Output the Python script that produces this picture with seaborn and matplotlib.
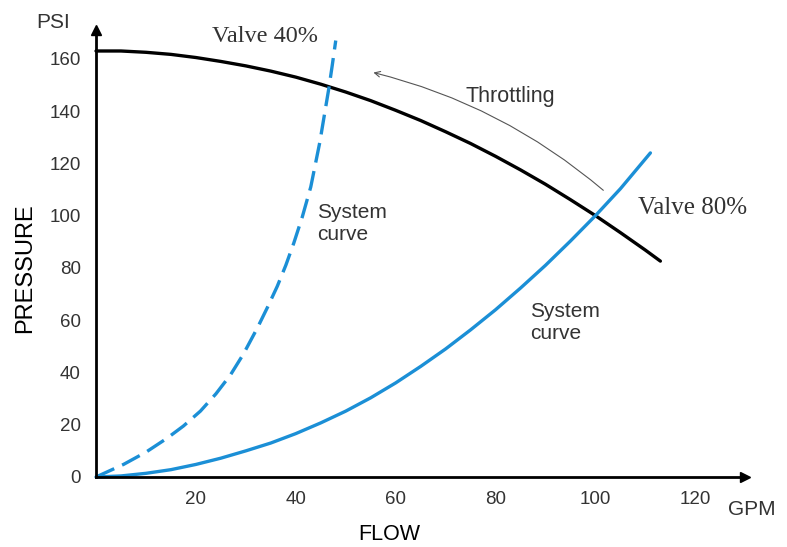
import pandas as pd
import seaborn as sns
import matplotlib.pyplot as plt

# pump curve (black)
pump_flow = [0, 5, 10, 15, 20, 25, 30, 35, 40, 45, 50, 55, 60, 65, 70, 75,
             80, 85, 90, 95, 100, 105, 110, 113]
pump_psi = [163, 163, 162.5, 161.7, 160.5, 159, 157.3, 155.3, 153, 150.3,
            147.3, 144, 140.3, 136.4, 132.1, 127.6, 122.7, 117.5, 112, 106.1,
            100, 93.5, 86.8, 82.6]

# system curve, valve 80% (solid blue)
sys80_flow = [0, 5, 10, 15, 20, 25, 30, 35, 40, 45, 50, 55, 60, 65, 70, 75,
              80, 85, 90, 95, 100, 105, 111]
sys80_psi = [0, 0.4, 1.4, 2.8, 4.8, 7.2, 10, 13, 16.6, 20.7, 25.2, 30.3, 36,
             42.3, 49, 56.3, 64, 72.3, 81, 90.3, 100, 110.3, 124]

# system curve, valve 40% (dashed blue)
sys40_flow = [0, 5.5, 10, 14.2, 17.5, 20.9, 24, 26.9, 29.5, 32.3, 34.3, 36.3,
              38, 39.6, 41.3, 43, 44.8, 46.6, 47.3, 48]
sys40_psi = [0, 4.8, 9.5, 14.8, 19.5, 25.2, 31.8, 39, 47, 57, 64.8, 73, 81,
             89.5, 99.5, 111, 128, 148.5, 157.5, 167]

x_ticks = [20, 40, 60, 80, 100, 120]
y_ticks = [0, 20, 40, 60, 80, 100, 120, 140, 160]

sns.set_style("white")
plt.rcParams['font.family'] = ['Liberation Sans', 'DejaVu Sans']

blue = "#1b8fd6"
grey = "#333333"

fig = plt.figure(figsize=(7.87, 5.47), dpi=100)
ax = fig.add_axes([0.122, 0.128, 0.825, 0.817])

pump = pd.DataFrame({"flow": pump_flow, "psi": pump_psi})
s80 = pd.DataFrame({"flow": sys80_flow, "psi": sys80_psi})
s40 = pd.DataFrame({"flow": sys40_flow, "psi": sys40_psi})

sns.lineplot(data=pump, x="flow", y="psi", ax=ax, color="black", lw=2.4, clip_on=False)
sns.lineplot(data=s80, x="flow", y="psi", ax=ax, color=blue, lw=2.4, clip_on=False)
line40 = sns.lineplot(data=s40, x="flow", y="psi", ax=ax, color=blue, lw=2.4, clip_on=False).lines[-1]
line40.set_dashes((6, 2.6))

ax.set_xlim(0, 130)
ax.set_ylim(0, 171)
ax.set_xticks(x_ticks)
ax.set_yticks(y_ticks)
ax.tick_params(axis="both", labelsize=13.5, labelcolor=grey, colors=grey, length=5, width=0.8)
ax.tick_params(axis="y", pad=6)
ax.tick_params(axis="x", length=0, pad=10)
ax.set_xlabel("")
ax.set_ylabel("")

for side in ["top", "right"]:
    ax.spines[side].set_visible(False)
for side in ["left", "bottom"]:
    ax.spines[side].set_linewidth(2)
    ax.spines[side].set_color("black")

# arrow heads on the axes
ax.plot(1, 0, ">", color="black", ms=7, transform=ax.get_yaxis_transform(), clip_on=False)
ax.plot(0, 1, "^", color="black", ms=7, transform=ax.get_xaxis_transform(), clip_on=False)

# axis labels
fig.text(0.046, 0.958, "PSI", fontsize=15, color=grey, ha="left", va="center")
fig.text(0.032, 0.51, "PRESSURE", fontsize=17, color="black", rotation=90, ha="center", va="center")
fig.text(0.495, 0.022, "FLOW", fontsize=15.5, color="black", ha="center", va="center")
fig.text(0.955, 0.068, "GPM", fontsize=15, color=grey, ha="center", va="center")

# annotations
serif = ['Liberation Serif', 'DejaVu Serif']
ax.text(23.3, 168.5, "Valve 40%", family=serif, fontsize=17.5, color=grey, ha="left", va="center")
ax.text(108.5, 103, "Valve 80%", family=serif, fontsize=18, color=grey, ha="left", va="center")
ax.text(74, 145.5, "Throttling", fontsize=15.5, color=grey, ha="left", va="center")
ax.text(44.2, 97, "System\ncurve", fontsize=15, color=grey, ha="left", va="center", linespacing=1.2)
ax.text(87, 59, "System\ncurve", fontsize=15, color=grey, ha="left", va="center", linespacing=1.2)

ax.annotate("", xy=(55, 155), xytext=(102, 109),
            arrowprops=dict(arrowstyle="->", color="#555555", lw=0.8,
                            connectionstyle="arc3,rad=0.12"))

fig.savefig("out.png", dpi=100)
